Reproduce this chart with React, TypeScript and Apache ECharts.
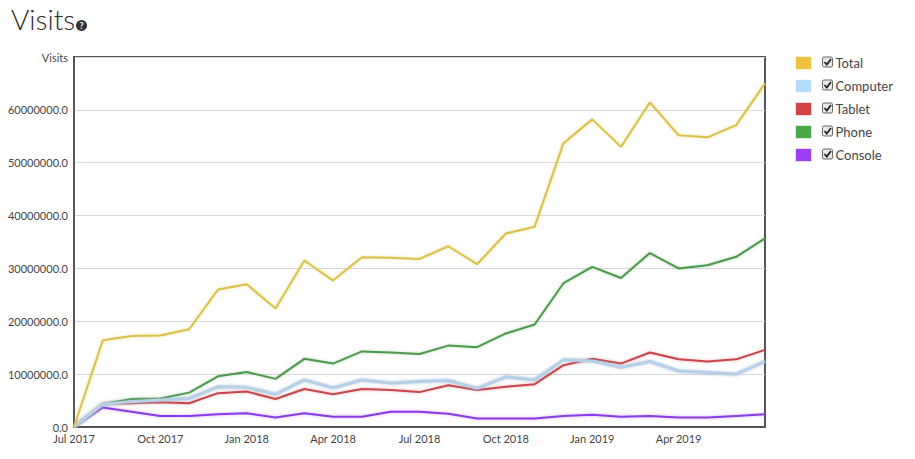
import React, { useEffect, useRef } from "react";
import * as echarts from "echarts";

const months = [
  "Jul 2017", "Aug 2017", "Sep 2017", "Oct 2017", "Nov 2017", "Dec 2017",
  "Jan 2018", "Feb 2018", "Mar 2018", "Apr 2018", "May 2018", "Jun 2018",
  "Jul 2018", "Aug 2018", "Sep 2018", "Oct 2018", "Nov 2018", "Dec 2018",
  "Jan 2019", "Feb 2019", "Mar 2019", "Apr 2019", "May 2019", "Jun 2019",
  "Jul 2019",
];

const total = [
  0, 16.4, 17.2, 17.3, 18.5, 26.0, 27.0, 22.4, 31.5, 27.7, 32.1, 32.0,
  31.8, 34.2, 30.8, 36.6, 37.9, 53.7, 58.2, 53.0, 61.4, 55.2, 54.8, 57.1, 65.0,
].map((v) => v * 1e6);

const computer = [
  0, 4.3, 4.8, 5.1, 5.4, 7.6, 7.5, 6.2, 8.9, 7.4, 8.9, 8.3,
  8.6, 8.8, 7.3, 9.5, 8.9, 12.7, 12.5, 11.3, 12.4, 10.6, 10.3, 10.0, 12.4,
].map((v) => v * 1e6);

const tablet = [
  0, 4.35, 4.5, 4.7, 4.5, 6.4, 6.7, 5.3, 7.2, 6.2, 7.2, 7.0,
  6.6, 7.9, 7.0, 7.6, 8.1, 11.7, 12.9, 12.0, 14.1, 12.8, 12.4, 12.8, 14.6,
].map((v) => v * 1e6);

const phone = [
  0, 4.35, 5.3, 5.4, 6.5, 9.6, 10.4, 9.1, 12.9, 12.0, 14.3, 14.1,
  13.8, 15.4, 15.1, 17.7, 19.4, 27.2, 30.3, 28.2, 32.9, 30.0, 30.6, 32.2, 35.7,
].map((v) => v * 1e6);

const consoleV = [
  0, 3.7, 2.9, 2.1, 2.1, 2.4, 2.6, 1.8, 2.6, 1.95, 1.95, 2.9,
  2.9, 2.5, 1.6, 1.6, 1.6, 2.1, 2.3, 1.95, 2.1, 1.8, 1.8, 2.1, 2.4,
].map((v) => v * 1e6);

const seriesNames = ["Total", "Computer", "Tablet", "Phone", "Console"];
const seriesData = [total, computer, tablet, phone, consoleV];
const lineColors = ["#dcc14a", "#b6d0e8", "#c8444a", "#4c9a4c", "#8a3be6"];
const swatchColors = ["#f0c23e", "#b5dcfa", "#d24545", "#4aa84a", "#9a40f0"];
const shadowColors = [
  "rgba(220,193,74,0.5)",
  "rgba(150,180,210,0.7)",
  "rgba(200,68,74,0.4)",
  "rgba(76,154,76,0.4)",
  "rgba(138,59,230,0.4)",
];

const FONT = "Lato, 'Open Sans', sans-serif";

export default function App() {
  const ref = useRef<HTMLDivElement>(null);
  useEffect(() => {
    if (!ref.current) return;
    const chart = echarts.init(ref.current, null, { renderer: "svg" });

    const checkboxes: any[] = [];
    seriesNames.forEach((_, i) => {
      const y = 56.5 + i * 23;
      checkboxes.push({
        type: "rect",
        shape: { x: 822.5, y: y + 0.5, width: 10, height: 10, r: 1.5 },
        style: { fill: "#e8e8e8", stroke: "#666", lineWidth: 1 },
        z: 100,
      });
      checkboxes.push({
        type: "polyline",
        shape: { points: [[824.5, y + 5.5], [826.8, y + 8], [831, y + 2.5]] },
        style: { stroke: "#222", lineWidth: 1.8, fill: null },
        z: 101,
      });
    });

    chart.setOption({
      animation: false,
      textStyle: { fontFamily: FONT },
      grid: {
        left: 74,
        right: 150,
        top: 57,
        bottom: 32,
        show: true,
        borderColor: "#555",
        borderWidth: 2,
        containLabel: false,
      },
      legend: {
        orient: "vertical",
        left: 795,
        top: 56,
        padding: 0,
        icon: "rect",
        itemWidth: 16,
        itemHeight: 13,
        itemGap: 9,
        selectedMode: false,
        data: seriesNames.map((n, i) => ({
          name: n,
          itemStyle: { color: swatchColors[i], borderColor: "rgba(255,255,255,0.6)", borderWidth: 1 },
        })),
        textStyle: {
          fontFamily: FONT,
          fontSize: 13,
          color: "#444",
          padding: [0, 0, 0, 19],
          lineHeight: 13,
        },
      },
      xAxis: {
        type: "category",
        data: months,
        boundaryGap: false,
        axisLine: { lineStyle: { color: "#555", width: 2 } },
        axisTick: { show: false },
        axisLabel: {
          interval: (i: number) => i % 3 === 0 && i < 24,
          color: "#444",
          fontSize: 11,
          fontFamily: FONT,
          margin: 6,
        },
        splitLine: { show: false },
      },
      yAxis: {
        type: "value",
        min: 0,
        max: 70000000,
        interval: 10000000,
        axisLine: { show: true, lineStyle: { color: "#555", width: 2 } },
        axisTick: { show: false },
        axisLabel: {
          color: "#444",
          fontSize: 11,
          fontFamily: FONT,
          margin: 6,
          formatter: (v: number) => (v >= 70000000 ? "Visits" : v.toFixed(1)),
        },
        splitLine: { lineStyle: { color: "#d8d8d8", width: 1 } },
      },
      series: seriesNames.map((n, i) => ({
        name: n,
        type: "line",
        data: seriesData[i],
        showSymbol: false,
        symbol: "none",
        color: swatchColors[i],
        lineStyle: {
          color: lineColors[i],
          width: i === 1 ? 3 : 2,
          shadowColor: shadowColors[i],
          shadowBlur: 3,
        },
        z: 2 + (seriesNames.length - i),
      })),
      graphic: [
        {
          type: "text",
          left: 11,
          top: 5,
          style: {
            text: "Visits",
            fontSize: 28,
            fontFamily: FONT,
            fill: "#2a2a2a",
            fontWeight: 300,
          },
        },
        {
          type: "circle",
          shape: { cx: 81.5, cy: 25.5, r: 5.5 },
          style: { fill: "#333" },
        },
        {
          type: "text",
          x: 81.5,
          y: 25.8,
          style: {
            text: "?",
            fontSize: 9,
            fontWeight: "bold",
            fontFamily: FONT,
            fill: "#fff",
            align: "center",
            verticalAlign: "middle",
          },
        },
        ...checkboxes,
      ],
    });
    return () => chart.dispose();
  }, []);
  return <div ref={ref} style={{ width: 915, height: 459, position: "absolute", left: 0, top: 0 }} />;
}
